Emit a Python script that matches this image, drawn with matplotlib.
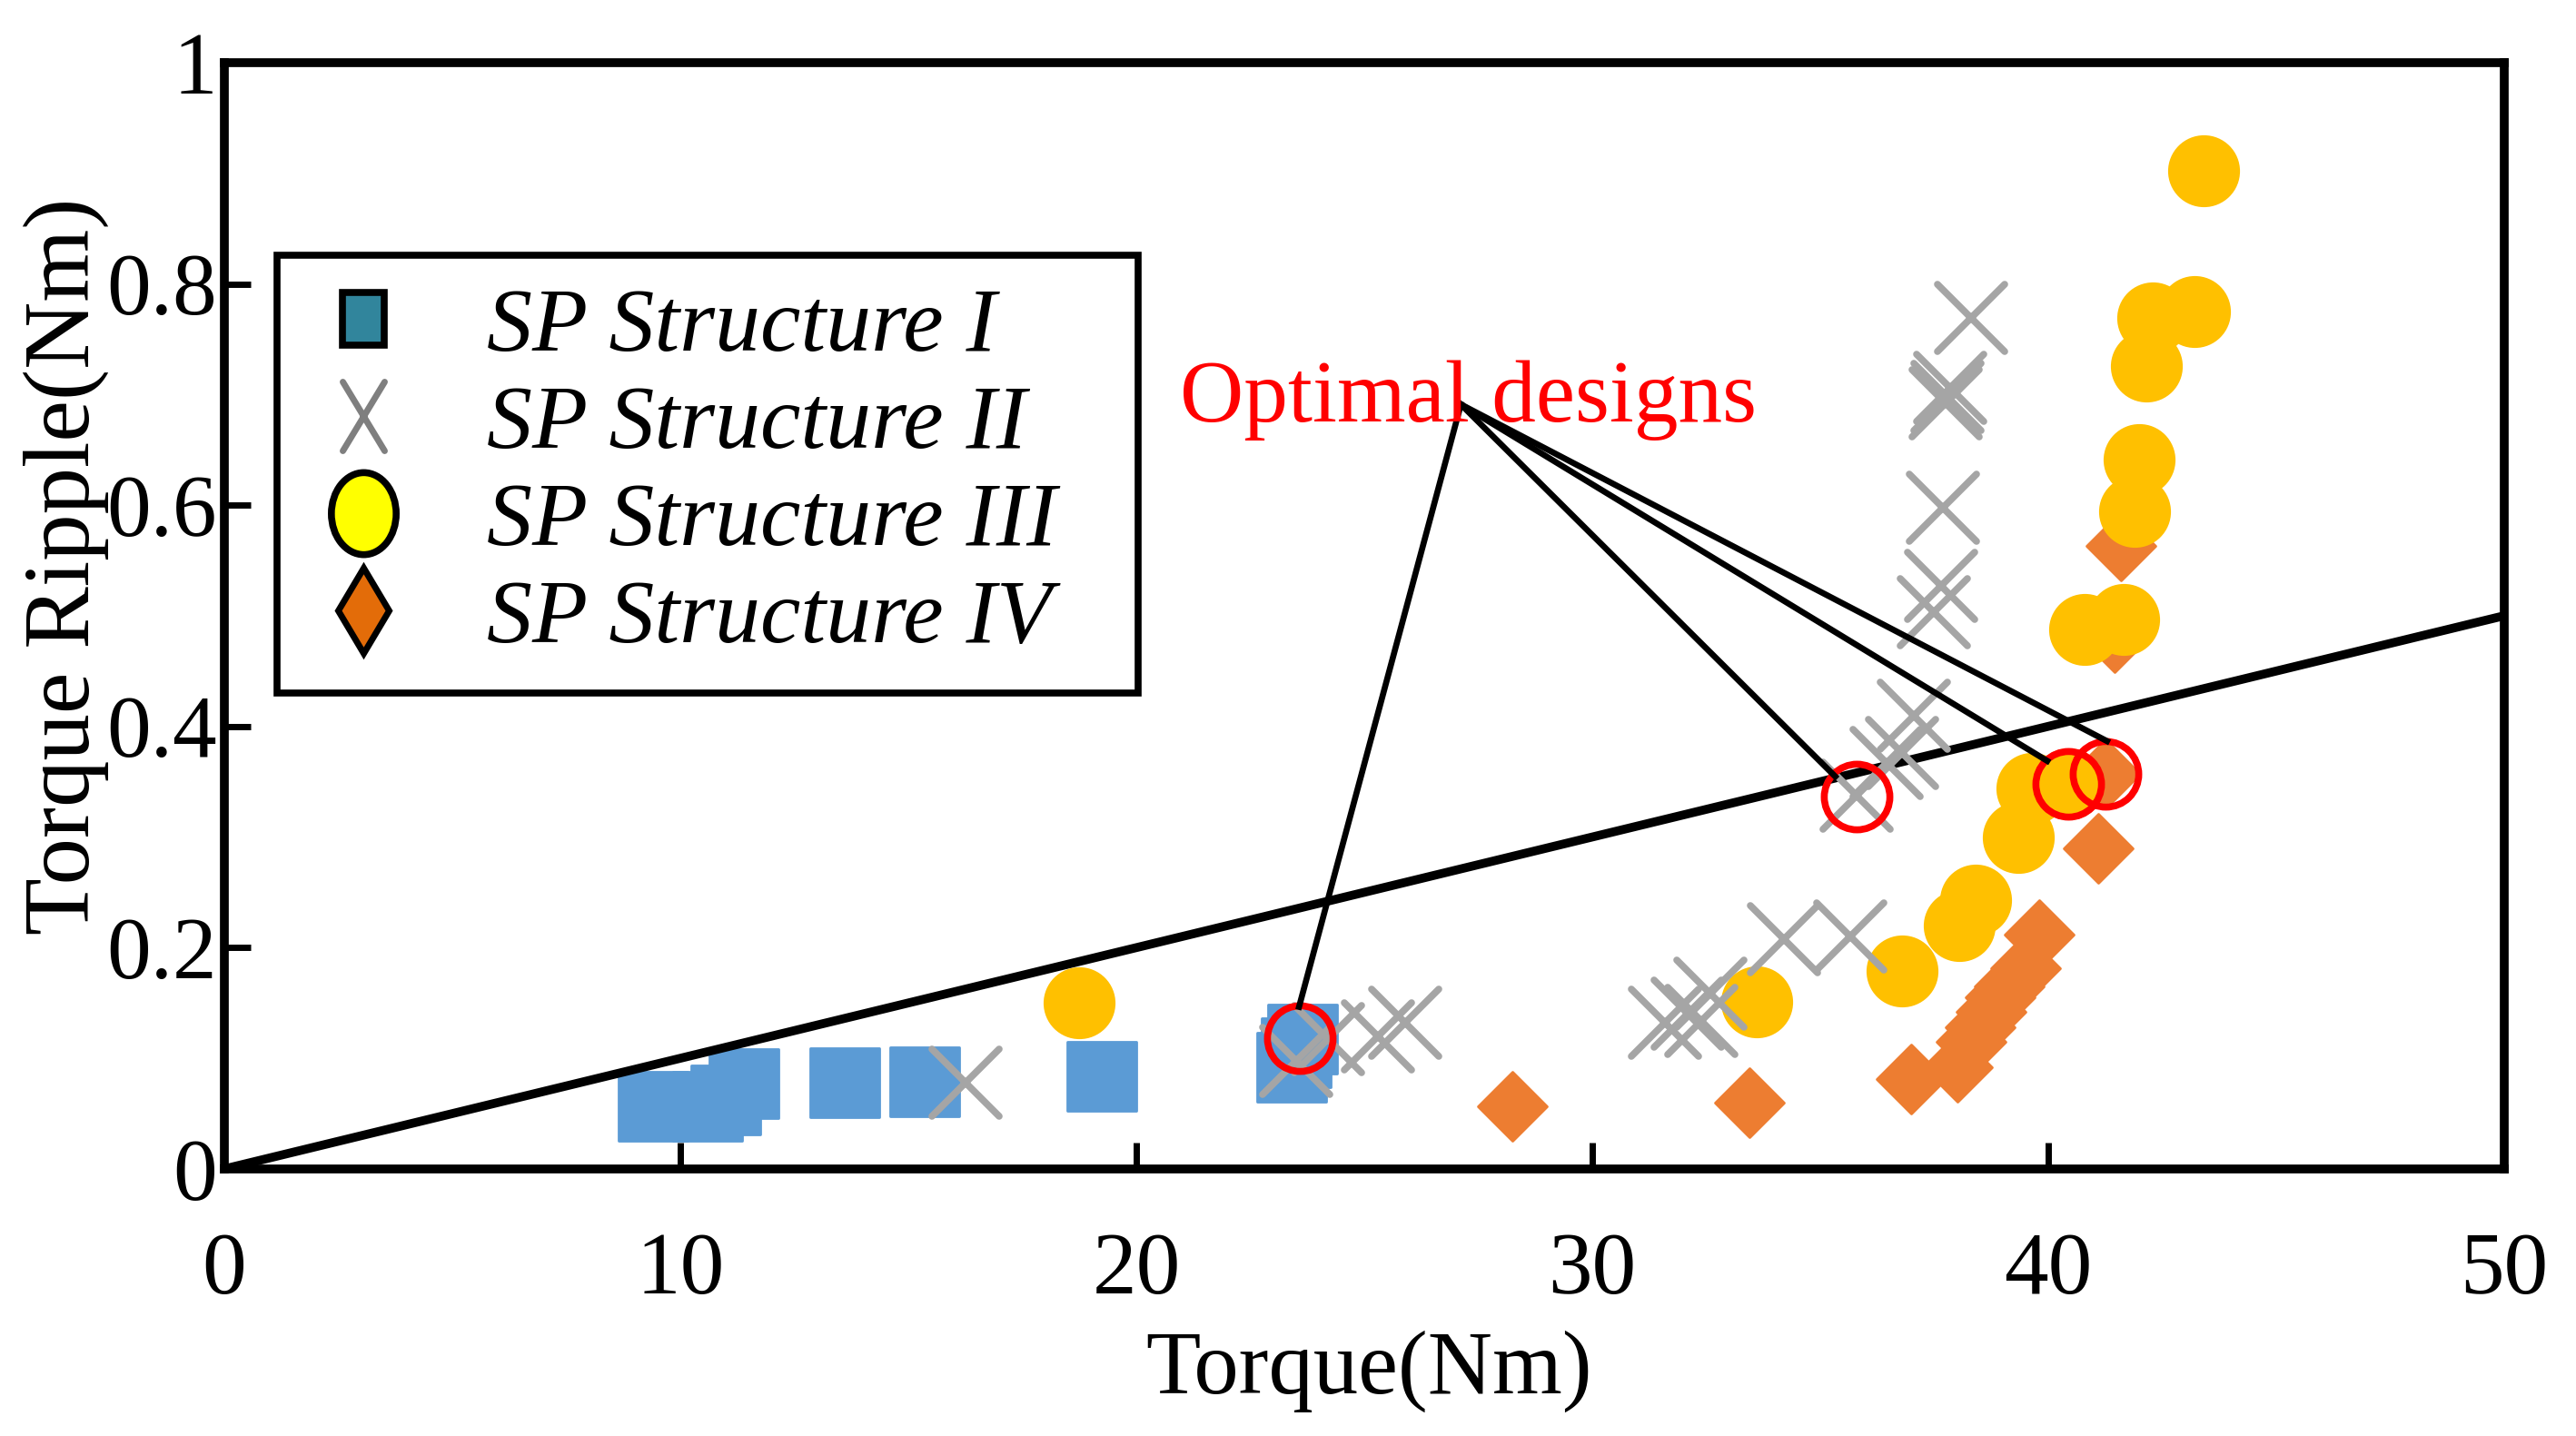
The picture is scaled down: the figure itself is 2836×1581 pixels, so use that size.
import matplotlib.pyplot as plt
from matplotlib.lines import Line2D
from matplotlib.markers import MarkerStyle
from matplotlib.transforms import Affine2D

plt.rcParams['font.family'] = ['Liberation Serif', 'DejaVu Serif']

# SP Structure I (squares)
s1_torque = [9.4, 10.6, 11.0, 11.4, 13.6, 15.35, 19.25, 23.4, 23.5, 23.65]
s1_ripple = [0.057, 0.057, 0.062, 0.077, 0.078, 0.079, 0.084, 0.092, 0.105, 0.117]

# SP Structure II (crosses)
s2_torque = [16.25, 23.5, 24.2, 25.3, 25.9, 31.6, 32.1, 32.4, 32.6, 34.2, 35.65,
             35.8, 36.45, 36.8, 37.05, 37.5, 37.65, 37.7, 37.75, 37.8, 37.85, 38.3]
s2_ripple = [0.078, 0.098, 0.117, 0.12, 0.132, 0.132, 0.14, 0.134, 0.158, 0.208, 0.21,
             0.337, 0.367, 0.376, 0.41, 0.503, 0.527, 0.598, 0.692, 0.698, 0.706, 0.769]

# SP Structure III (circles)
s3_torque = [18.75, 33.6, 36.8, 38.05, 38.4, 39.35, 39.65, 40.45, 40.8, 41.65,
             41.9, 42.0, 42.15, 42.3, 43.2, 43.4]
s3_ripple = [0.15, 0.151, 0.179, 0.22, 0.243, 0.30, 0.344, 0.348, 0.488, 0.497,
             0.594, 0.641, 0.726, 0.769, 0.775, 0.902]

# SP Structure IV (diamonds)
s4_torque = [28.25, 33.45, 37.0, 38.0, 38.3, 38.5, 38.75, 38.95, 39.15, 39.5,
             39.8, 41.1, 41.25, 41.45, 41.6]
s4_ripple = [0.057, 0.06, 0.081, 0.092, 0.115, 0.128, 0.142, 0.155, 0.165, 0.181,
             0.212, 0.29, 0.357, 0.48, 0.563]

# optimal designs (red circles) and annotation
opt_torque = [23.58, 35.8, 40.44, 41.26]
opt_ripple = [0.118, 0.3365, 0.3484, 0.3572]
hub = (27.12, 0.691)
leader_x = [23.57, 35.33, 39.98, 41.29]
leader_y = [0.1465, 0.3547, 0.3688, 0.3867]

# limit line ripple = 0.01 * torque
limit_x = [0, 50]
limit_y = [0, 0.5]

fig = plt.figure(figsize=(28.36, 15.81), dpi=100)
ax = fig.add_axes([0.0871, 0.1860, 0.8850, 0.7704])

ax.plot(s1_torque, s1_ripple, ls='none', marker=MarkerStyle('s', joinstyle='round'),
        ms=55, mfc='#5B9BD5', mec='#5B9BD5', mew=2, zorder=2)
ax.plot(limit_x, limit_y, color='black', lw=7, zorder=2.5)
ax.plot(s4_torque, s4_ripple, ls='none', marker=MarkerStyle('D', joinstyle='round'),
        ms=39, mfc='#ED7D31', mec='#ED7D31', mew=2, zorder=3)
ax.plot(s3_torque, s3_ripple, ls='none', marker='o',
        ms=57, mfc='#FFC000', mec='#FFC000', mew=0, zorder=4)
ax.plot(s2_torque, s2_ripple, ls='none', marker=MarkerStyle('x', capstyle='round'),
        ms=53, mec='#A5A5A5', mew=5.5, zorder=5)
ax.plot(opt_torque, opt_ripple, ls='none', marker='o', ms=52, mfc='none',
        mec='#FF0000', mew=5.5, zorder=6)

for lx, ly in zip(leader_x, leader_y):
    ax.plot([hub[0], lx], [hub[1], ly], color='black', lw=4.8, zorder=7)

ax.text(20.96, 0.6757, 'Optimal designs', color='#FF0000', fontsize=70,
        va='baseline', ha='left', zorder=8)

ax.set_xlim(0, 50)
ax.set_ylim(0, 1)
ax.set_xticks([0, 10, 20, 30, 40, 50])
ax.set_xticklabels(['0', '10', '20', '30', '40', '50'])
ax.set_yticks([0, 0.2, 0.4, 0.6, 0.8, 1.0])
ax.set_yticklabels(['0', '0.2', '0.4', '0.6', '0.8', '1'])
ax.tick_params(direction='in', length=21, width=5, labelsize=70, colors='black')
ax.tick_params(axis='x', pad=50)
ax.tick_params(axis='y', pad=6)
for sp in ax.spines.values():
    sp.set_linewidth(7)
    sp.set_zorder(9)

ax.set_xlabel('Torque(Nm)', fontsize=71)
ax.set_ylabel('Torque Ripple(Nm)', fontsize=74)
ax.xaxis.set_label_coords(0.502, -0.146)
ax.yaxis.set_label_coords(-0.0505, 0.545)

handles = [
    Line2D([], [], ls='none', marker=MarkerStyle('s', transform=Affine2D().scale(0.78, 1.0)),
           ms=42, mfc='#31859C', mec='black', mew=5.5),
    Line2D([], [], ls='none', marker=MarkerStyle('x', capstyle='round',
           transform=Affine2D().scale(0.61, 1.0)), ms=55, mec='#7F7F7F', mew=5),
    Line2D([], [], ls='none', marker=MarkerStyle('o', transform=Affine2D().scale(0.79, 1.0)),
           ms=65, mfc='#FFFF00', mec='black', mew=5.5),
    Line2D([], [], ls='none', marker=MarkerStyle('D', transform=Affine2D().scale(0.59, 1.0)),
           ms=48, mfc='#E36C09', mec='black', mew=5),
]
labels = ['SP Structure I', 'SP Structure II', 'SP Structure III', 'SP Structure IV']
leg = ax.legend(handles, labels, loc='upper left', mode='expand',
                bbox_to_anchor=(0.0231, 0.435, 0.3777, 0.391), borderaxespad=0,
                prop={'family': 'Liberation Serif', 'style': 'italic', 'size': 72},
                handlelength=1.2, handletextpad=0.76, borderpad=0.35, labelspacing=0.16,
                fancybox=False, framealpha=1, edgecolor='black')
leg.get_frame().set_linewidth(5.5)
leg.set_zorder(10)

fig.savefig('out.png', dpi=100)
